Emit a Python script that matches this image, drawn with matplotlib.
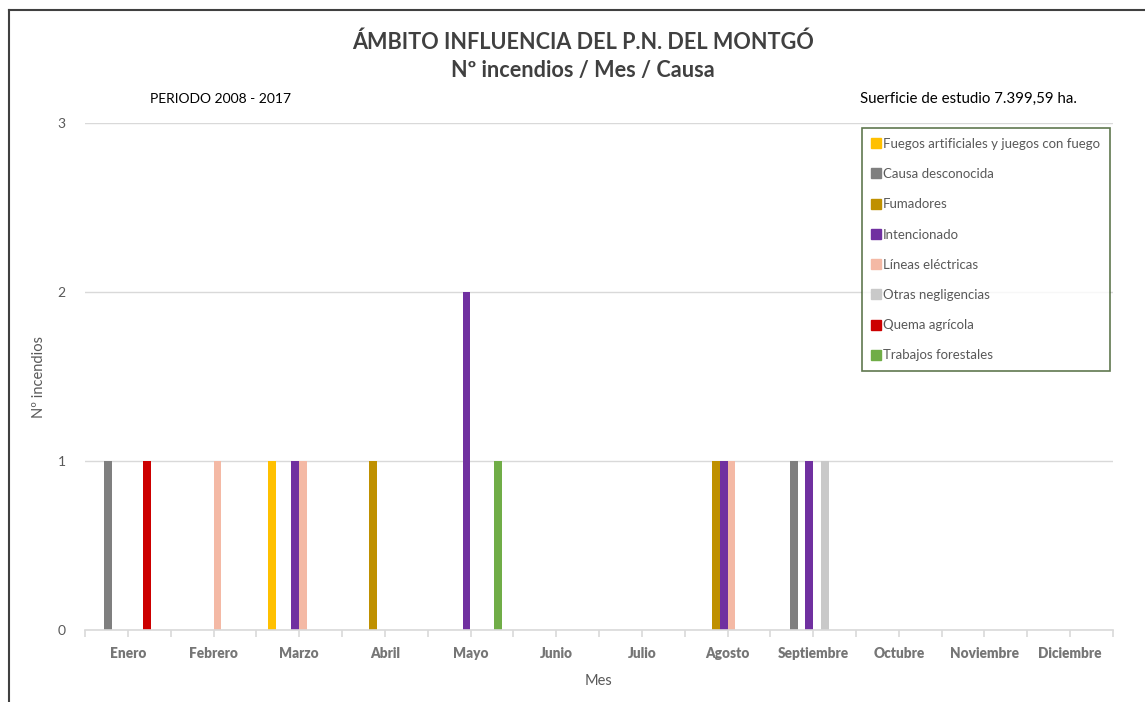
import matplotlib.pyplot as plt
import numpy as np
from matplotlib.lines import Line2D

plt.rcParams['font.family'] = ['Lato', 'DejaVu Sans']

meses = ['Enero', 'Febrero', 'Marzo', 'Abril', 'Mayo', 'Junio', 'Julio',
         'Agosto', 'Septiembre', 'Octubre', 'Noviembre', 'Diciembre']

causas = ['Fuegos artificiales y juegos con fuego', 'Causa desconocida',
          'Fumadores', 'Intencionado', 'Líneas eléctricas',
          'Otras negligencias', 'Quema agrícola', 'Trabajos forestales']

colores = ['#FFC000', '#7F7F7F', '#BF9000', '#7030A0', '#F4B9A5',
           '#C9C9C9', '#CC0000', '#70AD47']

# incendios por causa, mes a mes (Ene..Dic)
fuegos_artificiales = [0, 0, 1, 0, 0, 0, 0, 0, 0, 0, 0, 0]
causa_desconocida   = [1, 0, 0, 0, 0, 0, 0, 0, 1, 0, 0, 0]
fumadores           = [0, 0, 0, 1, 0, 0, 0, 1, 0, 0, 0, 0]
intencionado        = [0, 0, 1, 0, 2, 0, 0, 1, 1, 0, 0, 0]
lineas_electricas   = [0, 1, 1, 0, 0, 0, 0, 1, 0, 0, 0, 0]
otras_negligencias  = [0, 0, 0, 0, 0, 0, 0, 0, 1, 0, 0, 0]
quema_agricola      = [1, 0, 0, 0, 0, 0, 0, 0, 0, 0, 0, 0]
trabajos_forestales = [0, 0, 0, 0, 1, 0, 0, 0, 0, 0, 0, 0]

series = [fuegos_artificiales, causa_desconocida, fumadores, intencionado,
          lineas_electricas, otras_negligencias, quema_agricola,
          trabajos_forestales]

fig = plt.figure(figsize=(11.45, 7.02), dpi=100)
ax = fig.add_axes([85 / 1145, 1 - 630 / 702, 1028 / 1145, 507 / 702])

x = np.arange(len(meses))
w = 0.091
for i, (vals, nombre, c) in enumerate(zip(series, causas, colores)):
    ax.bar(x + (i - 3.5) * w, vals, width=w, color=c, label=nombre, zorder=2)

ax.set_xlim(-0.5, 11.5)
ax.set_ylim(0, 3)
ax.set_yticks([0, 1, 2, 3])
ax.yaxis.grid(True, color='#D9D9D9', linewidth=1, zorder=0)
ax.set_axisbelow(True)
for s in ['top', 'right', 'left']:
    ax.spines[s].set_visible(False)
ax.spines['bottom'].set_color('#D9D9D9')
ax.spines['bottom'].set_linewidth(1.2)
ax.spines['bottom'].set_zorder(3)

ax.set_xticks(x)
ax.set_xticklabels(meses, fontweight='heavy', color='#767676', fontsize=9.8)
ax.set_xticks(np.arange(-0.5, 12, 1), minor=True)
ax.tick_params(axis='x', which='both', length=5, color='#D9D9D9', width=1.2, pad=7)
ax.tick_params(axis='y', length=0, colors='#595959', labelsize=10, pad=14)

ax.set_ylabel('Nº incendios', fontsize=10.5, color='#595959', labelpad=8)
ax.set_xlabel('Mes', fontsize=10.5, color='#595959', labelpad=10)

fig.text(583 / 1145, 1 - 42 / 702, 'ÁMBITO INFLUENCIA DEL P.N. DEL MONTGÓ',
         ha='center', va='center', fontsize=15.6, fontweight='bold', color='#404040')
fig.text(583 / 1145, 1 - 70 / 702, 'Nº incendios / Mes / Causa',
         ha='center', va='center', fontsize=15.6, fontweight='bold', color='#404040')
fig.text(150 / 1145, 1 - 99 / 702, 'PERIODO 2008 - 2017',
         ha='left', va='center', fontsize=10, color='black')
fig.text(1077 / 1145, 1 - 99 / 702, 'Suerficie de estudio 7.399,59 ha.',
         ha='right', va='center', fontsize=10.8, color='black')

handles = [Line2D([], [], marker='s', linestyle='none', markersize=7,
                  markerfacecolor=c, markeredgecolor=c) for c in colores]
leg = ax.legend(handles, causas, loc='upper left',
                bbox_to_anchor=(862 / 1145, 1 - 128 / 702),
                bbox_transform=fig.transFigure, borderaxespad=0,
                fontsize=9.5, labelspacing=1.38,
                handlelength=0.6, handletextpad=0.25, borderpad=0.75,
                frameon=True, fancybox=False, labelcolor='#595959')
leg.get_frame().set_edgecolor('#375623')
leg.get_frame().set_linewidth(1.2)

# marco del gráfico
fig.add_artist(Line2D([9 / 1145, 1], [1 - 10 / 702, 1 - 10 / 702],
                      transform=fig.transFigure, color='#404040', linewidth=1.5))
fig.add_artist(Line2D([9 / 1145, 9 / 1145], [0, 1 - 10 / 702],
                      transform=fig.transFigure, color='#404040', linewidth=1.5))

fig.savefig('out.png', dpi=100)
